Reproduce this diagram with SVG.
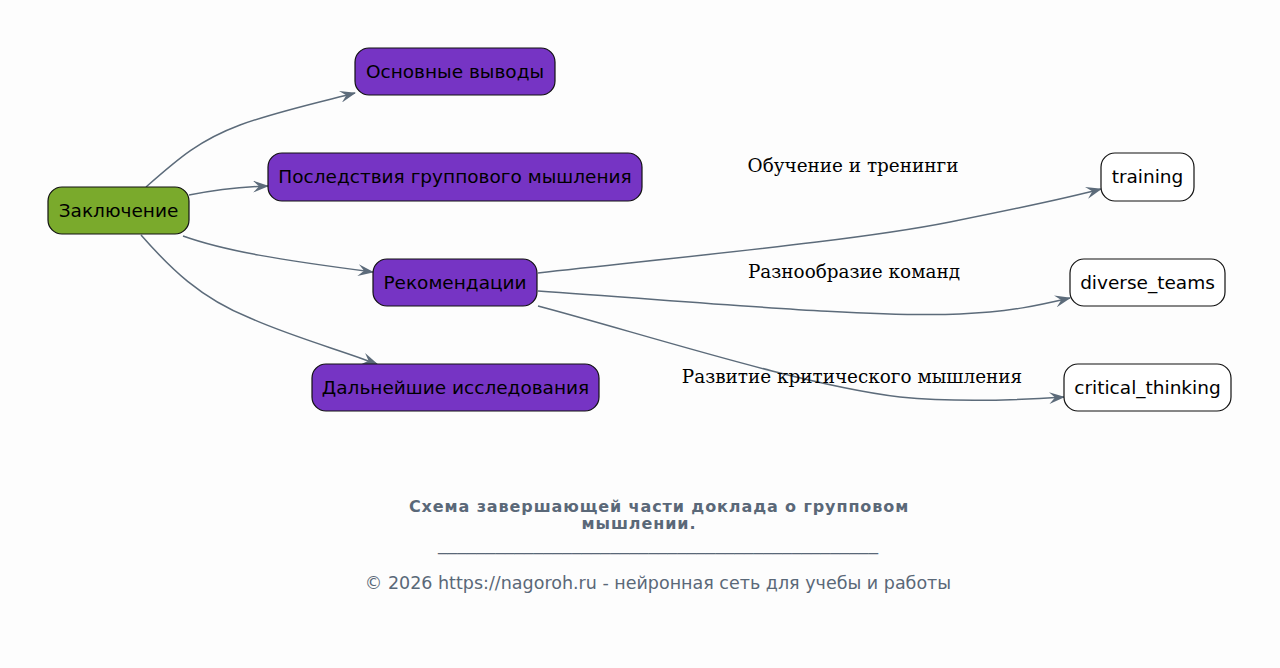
<svg xmlns="http://www.w3.org/2000/svg" width="1280" height="668" viewBox="0 0 1280 668">
<style>
.n rect{stroke:#111;stroke-width:1.2}
.p{fill:#7634c4}
.g{fill:#7aaa2c}
.w{fill:#ffffff}
.t{font-family:"DejaVu Sans",sans-serif;font-size:18.5px;fill:#000;text-anchor:middle}
.e path{fill:none;stroke:#5c6b7a;stroke-width:1.5}
.l{font-family:"DejaVu Serif","Liberation Serif",serif;font-size:18.4px;fill:#000;text-anchor:middle}
.f{font-family:"DejaVu Sans",sans-serif;fill:#5a6878;text-anchor:middle}
.fb{font-size:16px;font-weight:bold;letter-spacing:0.9px}
</style>
<defs>
<marker id="a" viewBox="0 0 16 12" refX="15" refY="6" markerWidth="16" markerHeight="12" markerUnits="userSpaceOnUse" orient="auto">
<path d="M0,0 L16,6 L0,12 L6,6 z" fill="#5c6b7a"/>
</marker>
</defs>
<rect width="1280" height="668" fill="#fdfdfd"/>
<g class="e" id="edges">
<path d="M146,187 C180,157 200,140 240,125 C275,112 320,102 355,93" marker-end="url(#a)"/>
<path d="M189,195 C215,190 240,187 268,186" marker-end="url(#a)"/>
<path d="M183,236 C225,251 280,260 373,272" marker-end="url(#a)"/>
<path d="M141,235 C170,268 200,298 250,318 C290,336 340,350 377,364" marker-end="url(#a)"/>
<path d="M538,273 C700,255 860,240 950,222 C1010,210 1060,200 1101,189" marker-end="url(#a)"/>
<path d="M538,291 C700,302 870,318 960,314 C1010,312 1040,305 1070,298" marker-end="url(#a)"/>
<path d="M538,306 C640,333 800,385 900,397 C960,403 1020,400 1064,397" marker-end="url(#a)"/>
</g>
<g id="labels">
<text class="l" x="853" y="172">Обучение и тренинги</text>
<text class="l" x="854" y="278">Разнообразие команд</text>
<text class="l" x="852" y="383">Развитие критического мышления</text>
</g>
<g class="n" id="n_conclusion"><rect class="g" x="48" y="187" width="141" height="47" rx="14"/><text class="t" x="118.5" y="217">Заключение</text></g>
<g class="n" id="n_main"><rect class="p" x="355" y="48" width="200" height="47" rx="14"/><text class="t" x="455" y="78">Основные выводы</text></g>
<g class="n" id="n_consequences"><rect class="p" x="268" y="153" width="374" height="48" rx="14"/><text class="t" x="455" y="183">Последствия группового мышления</text></g>
<g class="n" id="n_recommendations"><rect class="p" x="373" y="259" width="164" height="47" rx="14"/><text class="t" x="455" y="289">Рекомендации</text></g>
<g class="n" id="n_further"><rect class="p" x="312" y="364" width="287" height="47" rx="14"/><text class="t" x="455.5" y="394">Дальнейшие исследования</text></g>
<g class="n" id="n_training"><rect class="w" x="1101" y="153" width="93" height="48" rx="14"/><text class="t" x="1147.5" y="183">training</text></g>
<g class="n" id="n_diverse"><rect class="w" x="1070" y="259" width="155" height="47" rx="14"/><text class="t" x="1147.5" y="289">diverse_teams</text></g>
<g class="n" id="n_critical"><rect class="w" x="1064" y="364" width="167" height="47" rx="14"/><text class="t" x="1147.5" y="394">critical_thinking</text></g>
<g id="footer">
<text class="f fb" x="659" y="512">Схема завершающей части доклада о групповом</text>
<text class="f fb" x="639" y="529">мышлении.</text>
<text class="f" x="658" y="550" font-size="15" textLength="440" lengthAdjust="spacingAndGlyphs">______________________________________________</text>
<text class="f" x="658" y="589" font-size="17.5">© 2026 https://nagoroh.ru - нейронная сеть для учебы и работы</text>
</g>
</svg>
